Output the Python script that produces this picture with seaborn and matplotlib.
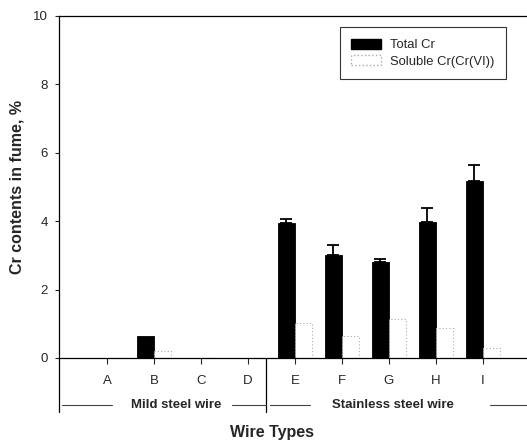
import numpy as np
import pandas as pd
import matplotlib
matplotlib.use("Agg")
import matplotlib.pyplot as plt
import seaborn as sns
from matplotlib.patches import Patch
import matplotlib.transforms as mtransforms

categories = ["A", "B", "C", "D", "E", "F", "G", "H", "I"]
total_cr = [0.0, 0.64, 0.0, 0.0, 3.95, 3.0, 2.8, 3.98, 5.18]
total_err = [0.0, 0.0, 0.0, 0.0, 0.12, 0.3, 0.1, 0.4, 0.47]
soluble_cr = [0.0, 0.2, 0.0, 0.0, 1.02, 0.64, 1.14, 0.88, 0.28]
series = ["Total Cr", "Soluble Cr(Cr(VI))"]
groups = ["Mild steel wire", "Stainless steel wire"]

sns.set_theme(style="white")
plt.rcParams["font.family"] = ["Liberation Sans", "DejaVu Sans"]

df = pd.DataFrame({
    "Wire": categories * 2,
    "Value": total_cr + soluble_cr,
    "Series": [series[0]] * len(categories) + [series[1]] * len(categories),
})

W, H = 527, 442
x0px, x1px, ytop, ybot = 59, 527, 16, 358
fig = plt.figure(figsize=(W / 100, H / 100), dpi=100)
ax = fig.add_axes([x0px / W, 1 - ybot / H, (x1px - x0px) / W, (ybot - ytop) / H])

sns.barplot(data=df, x="Wire", y="Value", hue="Series", order=categories,
            hue_order=series, palette=["black", "white"], width=0.72,
            errorbar=None, ax=ax, legend=False, saturation=1)

n = len(categories)
bars = ax.patches
for p in bars[:n]:
    p.set_edgecolor("black")
    p.set_linewidth(0.6)
for p in bars[n:2 * n]:
    p.set_edgecolor("#aaaaaa")
    p.set_linestyle((0, (1, 2)))
    p.set_linewidth(0.8)

# error bars (upper only) on Total Cr
xs = [p.get_x() + p.get_width() / 2 for p in bars[:n]]
for x, v, e in zip(xs, total_cr, total_err):
    if e > 0:
        ax.errorbar([x], [v], yerr=[[0], [e]], fmt="none", ecolor="black",
                    elinewidth=1.3, capsize=4, capthick=1.3)

ax.set_xlim(-1.02, 8.94)
ax.set_ylim(0, 10)
ax.set_yticks([0, 2, 4, 6, 8, 10])
ax.set_yticklabels(["0", "2", "4", "6", "8", "10"], fontsize=9.5)
ax.set_xticks(range(n))
ax.set_xticklabels(categories, fontsize=9.5)
ax.tick_params(axis="y", direction="out", length=3, width=0.8, pad=5, left=True)
ax.tick_params(axis="x", direction="out", length=4, width=0.8, pad=8, bottom=True)
ax.set_xlabel("")
ax.set_ylabel("Cr contents in fume, %", fontsize=11.5, fontweight="bold", labelpad=6)

for s in ["left", "bottom", "top"]:
    ax.spines[s].set_visible(True)
    ax.spines[s].set_color("black")
    ax.spines[s].set_linewidth(0.9)
ax.spines["right"].set_visible(False)

# extension of left spine and divider below the axis
trans = mtransforms.blended_transform_factory(ax.transData, ax.transAxes)
ext = -(412 - ybot) / (ybot - ytop)
ax.plot([-1.02, -1.02], [0, ext], transform=trans, color="black", lw=0.9, clip_on=False)
ax.plot([3.38, 3.38], [0, ext], transform=trans, color="black", lw=0.9, clip_on=False)

# group labels
gy = -(405 - ybot) / (ybot - ytop)
ax.text(1.47, gy, groups[0], transform=trans, ha="center", va="center",
        fontsize=9.5, fontweight="bold")
ax.text(6.09, gy, groups[1], transform=trans, ha="center", va="center",
        fontsize=9.5, fontweight="bold")
for xa, xb in [(-0.96, 0.11), (2.66, 3.38), (3.47, 4.32), (8.15, 8.94)]:
    ax.plot([xa, xb], [gy, gy], transform=trans, color="#444444", lw=0.8, clip_on=False)

fig.text(272 / W, 1 - 433 / H, "Wire Types", ha="center", va="center",
         fontsize=11.5, fontweight="bold")

handles = [Patch(facecolor="black", edgecolor="black", label=series[0]),
           Patch(facecolor="white", edgecolor="#aaaaaa", linestyle=":", label=series[1])]
leg = ax.legend(handles=handles, loc="upper right",
                bbox_to_anchor=((506 - x0px) / (x1px - x0px), (ybot - 27) / (ybot - ytop)),
                borderaxespad=0, fontsize=9.4, frameon=True, fancybox=False,
                handlelength=2.3, handleheight=0.8, borderpad=0.9, labelspacing=0.3,
                handletextpad=0.65)
leg.get_frame().set_edgecolor("black")
leg.get_frame().set_linewidth(0.8)

fig.savefig("out.png", dpi=100)
